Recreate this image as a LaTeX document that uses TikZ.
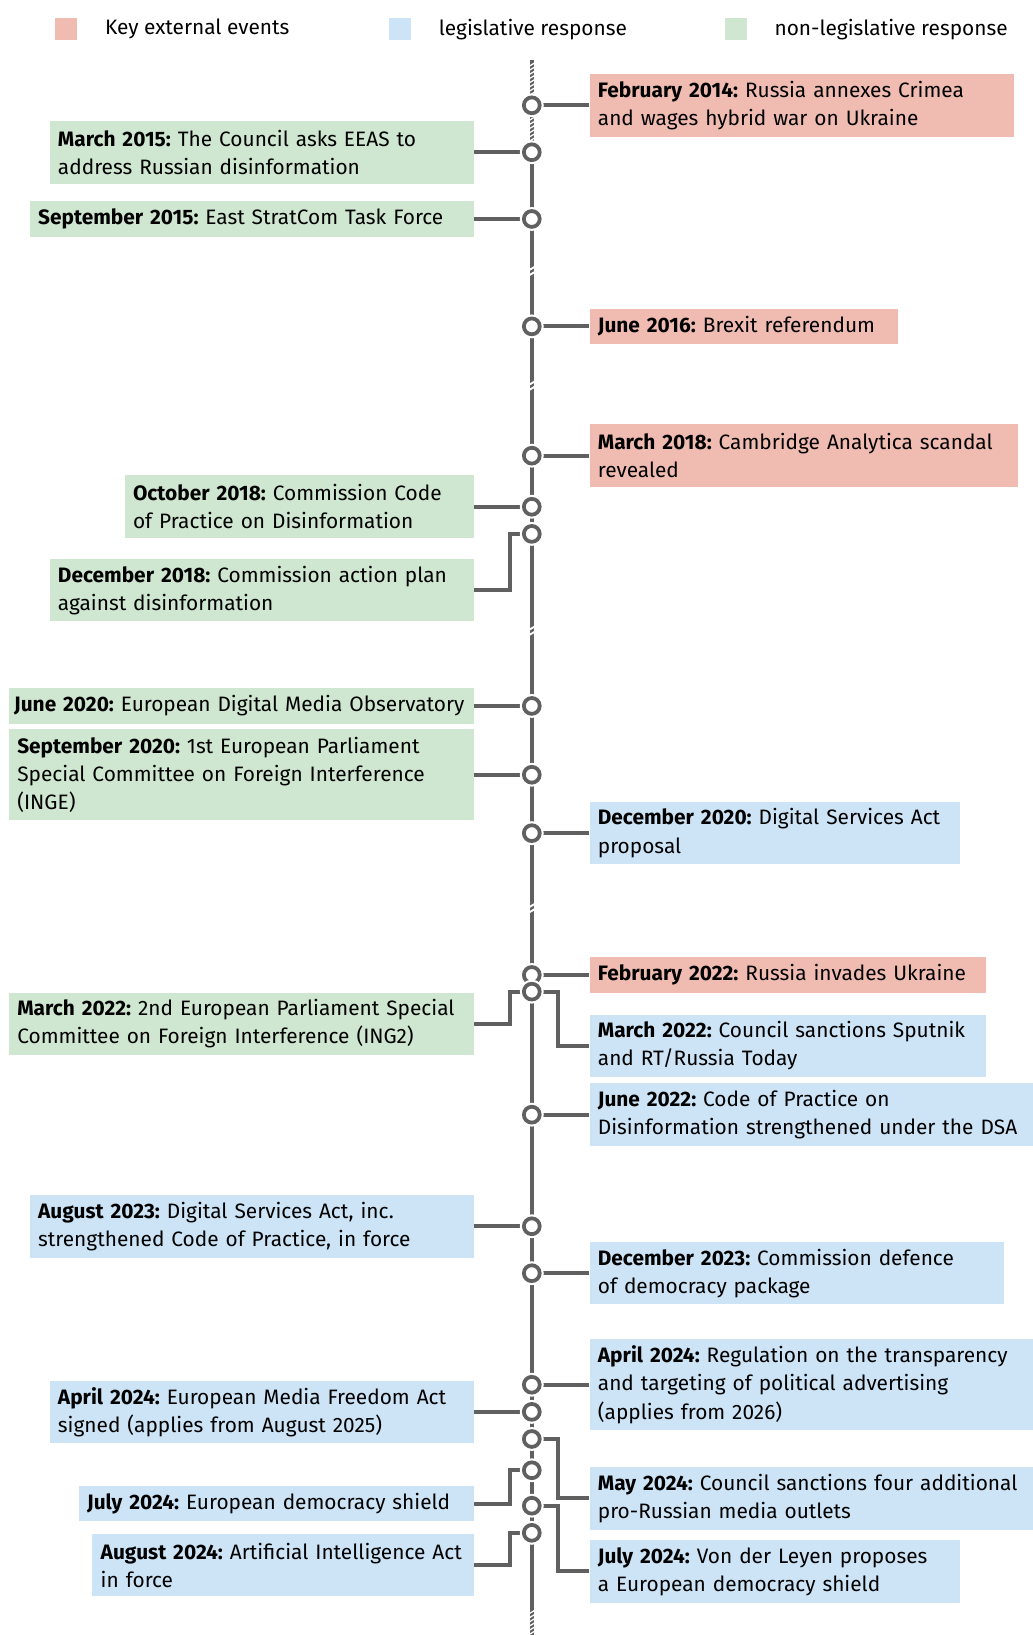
\documentclass[tikz,border=0pt]{standalone}
\usepackage{fontspec}
\setmainfont{Fira Sans}
\usetikzlibrary{positioning, backgrounds}
\definecolor{extred}{RGB}{240,188,178}
\definecolor{legblue}{RGB}{204,228,246}
\definecolor{nlgreen}{RGB}{207,230,209}
\definecolor{tlgray}{RGB}{96,96,96}
\newcommand{\evdate}[1]{\textbf{#1}}
\newcommand{\boxfont}{\fontsize{10}{13.5}\selectfont\frenchspacing}

\begin{document}
\begin{tikzpicture}[x=0.5pt, y=-0.5pt,
    every node/.style={font=\boxfont},
    evbox/.style={inner xsep=4pt, inner ysep=1pt, align=left},
    ext/.style={evbox, fill=extred},
    leg/.style={evbox, fill=legblue},
    nonleg/.style={evbox, fill=nlgreen},
    oneline/.style={minimum height=17pt},
    twolines/.style={minimum height=30pt},
    threelines/.style={minimum height=43.5pt},
    evt/.style={circle, draw=tlgray, fill=white, line width=1.8pt, minimum size=7.6pt, inner sep=0pt, preaction={draw=white, line width=3.8pt}},
    tl/.style={draw=tlgray, line width=1.9pt},
    conn/.style={draw=tlgray, line width=1.9pt},
    brk/.style={draw=white, line width=0.9pt},
    hatch/.style={draw=white, line width=0.6pt},
    legsq/.style={minimum size=10.5pt, inner sep=0pt},
    legtxt/.style={inner sep=3pt}]
    \useasboundingbox (0,0) rectangle (990,1568);

    \node[legsq, fill=extred] (sqext) at (63.5,28) {};
    \node[legtxt, right=10pt of sqext] (lbext) {Key external events};
    \node[legsq, fill=legblue] (sqleg) at (383.5,28) {};
    \node[legtxt, right=10pt of sqleg] (lbleg) {legislative response};
    \node[legsq, fill=nlgreen] (sqnl) at (705.5,28) {};
    \node[legtxt, right=10pt of sqnl] (lbnl) {non-legislative response};

    \node[ext, twolines, anchor=west, text width=195.5pt] (b1) at (565,101) {\evdate{February 2014:} Russia annexes Crimea\\and wages hybrid war on Ukraine};
    \node[nonleg, twolines, anchor=east, text width=195.5pt] (b2) at (455,146) {\evdate{March 2015:} The Council asks EEAS to\\address Russian disinformation};
    \node[nonleg, oneline, anchor=east, text width=205pt] (b3) at (455,210) {\evdate{September 2015:} East StratCom Task Force};
    \node[ext, oneline, anchor=west, text width=140pt] (b4) at (565,313) {\evdate{June 2016:} Brexit referendum};
    \node[ext, twolines, anchor=west, text width=197.5pt] (b5) at (565,437) {\evdate{March 2018:} Cambridge Analytica scandal\\revealed};
    \node[nonleg, twolines, anchor=east, text width=159.5pt] (b6) at (455,486) {\evdate{October 2018:} Commission Code\\of Practice on Disinformation};
    \node[nonleg, twolines, anchor=east, text width=195.5pt] (b7) at (455,566) {\evdate{December 2018:} Commission action plan\\against disinformation};
    \node[nonleg, oneline, anchor=east, inner xsep=2.5pt, text width=218pt] (b8) at (455,677) {\evdate{June 2020:} European Digital Media Observatory};
    \node[nonleg, threelines, anchor=east, text width=215pt] (b9) at (455,743) {\evdate{September 2020:} 1st European Parliament\\Special Committee on Foreign Interference\\(INGE)};
    \node[leg, twolines, anchor=west, text width=169.5pt] (b10) at (565,799) {\evdate{December 2020:} Digital Services Act\\proposal};
    \node[ext, oneline, anchor=west, text width=182pt] (b11) at (565,935) {\evdate{February 2022:} Russia invades Ukraine};
    \node[nonleg, twolines, anchor=east, text width=215pt] (b12) at (455,982) {\evdate{March 2022:} 2nd European Parliament Special\\Committee on Foreign Interference (ING2)};
    \node[leg, twolines, anchor=west, text width=182pt] (b13) at (565,1003) {\evdate{March 2022:} Council sanctions Sputnik\\and RT/Russia Today};
    \node[leg, twolines, anchor=west, text width=204.5pt] (b14) at (565,1069) {\evdate{June 2022:} Code of Practice on\\Disinformation strengthened under the DSA};
    \node[leg, twolines, anchor=east, text width=205pt] (b15) at (455,1176) {\evdate{August 2023:} Digital Services Act, inc.\\strengthened Code of Practice, in force};
    \node[leg, twolines, anchor=west, text width=190.5pt] (b16) at (565,1221) {\evdate{December 2023:} Commission defence\\of democracy package};
    \node[leg, threelines, anchor=west, text width=204.5pt] (b17) at (565,1328) {\evdate{April 2024:} Regulation on the transparency\\and targeting of political advertising\\(applies from 2026)};
    \node[leg, twolines, anchor=east, text width=195.5pt] (b18) at (455,1354) {\evdate{April 2024:} European Media Freedom Act\\signed (applies from August 2025)};
    \node[leg, twolines, anchor=west, text width=204.5pt] (b19) at (565,1437) {\evdate{May 2024:} Council sanctions four additional\\pro-Russian media outlets};
    \node[leg, oneline, anchor=east, text width=181.5pt] (b20) at (455,1442) {\evdate{July 2024:} European democracy shield};
    \node[leg, twolines, anchor=west, text width=169.5pt] (b21) at (565,1507) {\evdate{July 2024:} Von der Leyen proposes\\a European democracy shield};
    \node[leg, twolines, anchor=east, text width=175pt] (b22) at (455,1501) {\evdate{August 2024:} Artificial Intelligence Act\\in force};

    \node[evt] (t1) at (510,101) {};
    \node[evt] (t2) at (510,146) {};
    \node[evt] (t3) at (510,210) {};
    \node[evt] (t4) at (510,313) {};
    \node[evt] (t5) at (510,437) {};
    \node[evt] (t6) at (510,486) {};
    \node[evt] (t7) at (510,512) {};
    \node[evt] (t8) at (510,677) {};
    \node[evt] (t9) at (510,743) {};
    \node[evt] (t10) at (510,799) {};
    \node[evt] (t11) at (510,935) {};
    \node[evt] (t12) at (510,951) {};
    \node[evt] (t14) at (510,1069) {};
    \node[evt] (t15) at (510,1176) {};
    \node[evt] (t16) at (510,1221) {};
    \node[evt] (t17) at (510,1328) {};
    \node[evt] (t18) at (510,1354) {};
    \node[evt] (t19) at (510,1380) {};
    \node[evt] (t20) at (510,1410) {};
    \node[evt] (t21) at (510,1444) {};
    \node[evt] (t22) at (510,1470) {};

    \begin{scope}[on background layer]
        \coordinate (tltop) at (510,58);
        \coordinate (tlbot) at (510,1568);
        \draw[tl] (tltop) -- (tlbot);
        \foreach \yy in {62,66,...,134}
            \draw[hatch] (505,\yy+3) -- (515,\yy-3);
        \foreach \yy in {1546,1550,...,1566}
            \draw[hatch] (505,\yy+3) -- (515,\yy-3);
        \foreach \yy in {259,369,604,870} {
            \draw[brk] (504,\yy+2) -- (516,\yy-5);
            \draw[brk] (504,\yy+7) -- (516,\yy);
        }

        \draw[conn] (t1.center) -- (b1.west);
        \draw[conn] (t2.center) -- (b2.east);
        \draw[conn] (t3.center) -- (b3.east);
        \draw[conn] (t4.center) -- (b4.west);
        \draw[conn] (t5.center) -- (b5.west);
        \draw[conn] (t6.center) -- (b6.east);
        \draw[conn] (t7.center) -- ++(-21,0) |- (b7.east);
        \draw[conn] (t8.center) -- (b8.east);
        \draw[conn] (t9.center) -- (b9.east);
        \draw[conn] (t10.center) -- (b10.west);
        \draw[conn] (t11.center) -- (b11.west);
        \draw[conn] (t12.center) -- ++(-21,0) |- (b12.east);
        \draw[conn] (t12.center) -- ++(25,0) |- (b13.west);
        \draw[conn] (t14.center) -- (b14.west);
        \draw[conn] (t15.center) -- (b15.east);
        \draw[conn] (t16.center) -- (b16.west);
        \draw[conn] (t17.center) -- (b17.west);
        \draw[conn] (t18.center) -- (b18.east);
        \draw[conn] (t19.center) -- ++(25,0) |- (b19.west);
        \draw[conn] (t20.center) -- ++(-21,0) |- (b20.east);
        \draw[conn] (t21.center) -- ++(25,0) |- (b21.west);
        \draw[conn] (t22.center) -- ++(-21,0) |- (b22.east);
    \end{scope}
\end{tikzpicture}
\end{document}
